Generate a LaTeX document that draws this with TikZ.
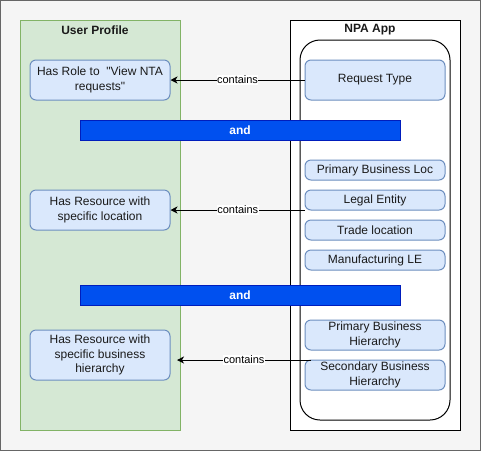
\documentclass[tikz,border=0pt]{standalone}
\usepackage{fontspec}
\setmainfont[Ligatures=NoCommon]{Liberation Sans}
\usetikzlibrary{arrows.meta}
\definecolor{bgfill}{HTML}{F5F5F5}
\definecolor{bgdraw}{HTML}{666666}
\definecolor{grfill}{HTML}{D5E8D4}
\definecolor{grdraw}{HTML}{82B366}
\definecolor{blfill}{HTML}{DAE8FC}
\definecolor{bldraw}{HTML}{6C8EBF}
\definecolor{andfill}{HTML}{0050EF}
\definecolor{anddraw}{HTML}{001DBC}
\definecolor{txt}{HTML}{1A1A1A}
\tikzset{
  item/.style={draw=bldraw, fill=blfill, rounded corners=6pt, line width=1pt, inner sep=0pt,
    minimum width=140pt, align=center, font=\fontsize{12}{14.5}\selectfont, text=txt},
  andbar/.style={draw=anddraw, fill=andfill, line width=1pt, inner sep=0pt,
    minimum width=320pt, minimum height=20pt, text=white, font=\fontsize{12}{14}\selectfont\bfseries},
  lbl/.style={fill=white, inner sep=0.5pt, font=\fontsize{11}{13}\selectfont, text=black},
  conn/.style={line width=1pt, -{Stealth[length=7pt,width=7pt,inset=2pt]}},
  title/.style={font=\fontsize{12}{14}\selectfont\bfseries, text=txt, inner sep=0pt}
}
\begin{document}
\begin{tikzpicture}[x=1pt,y=-1pt]
\useasboundingbox (0,0) rectangle (481,451);
\draw[bgdraw, fill=bgfill, line width=1pt] (0.5,0.5) rectangle (480.5,450.5);
% containers
\draw[grdraw, fill=grfill, line width=1pt] (20,20) rectangle (180,430);
\node[title] (upt) at (95,30) {User Profile};
\draw[black, fill=white, line width=1pt] (290,20) rectangle (460,430);
\node[title] (npat) at (370,30) {NPA App};
\draw[black, fill=white, line width=1pt, rounded corners=20pt] (300,40) rectangle (450,420);
% left items
\node[item, minimum height=40pt] (role) at (100,80) {Has Role to \ \textquotedbl View NTA\\requests\textquotedbl};
\node[item, minimum height=40pt] (loc) at (100,210) {Has Resource with\\specific location};
\node[item, minimum height=50pt] (hier) at (100,355) {Has Resource with\\specific business\\hierarchy};
% right items
\node[item, minimum height=40pt] (req) at (375,80) {Request Type};
\node[item, minimum height=20pt] (pbl) at (375,170) {Primary Business Loc};
\node[item, minimum height=20pt] (le) at (375,200) {Legal Entity};
\node[item, minimum height=20pt] (tl) at (375,230) {Trade location};
\node[item, minimum height=20pt] (mle) at (375,260) {Manufacturing LE};
\node[item, minimum height=30pt] (pbh) at (375,335) {Primary Business\\Hierarchy};
\node[item, minimum height=30pt] (sbh) at (375,375) {Secondary Business\\Hierarchy};
% and bars
\node[andbar] (and1) at (240,130) {and};
\node[andbar] (and2) at (240,295) {and};
% connectors
\coordinate (c2) at (305,210);
\coordinate (c3) at (311,360);
\coordinate (t3) at (177,360);
\draw[conn] (req.west) -- node[lbl, pos=0.5] {contains} (role.east);
\draw[conn] (c2) -- node[lbl, pos=0.5] {contains} (loc.east);
\draw[conn] (c3) -- node[lbl, pos=0.5] {contains} (t3);
\end{tikzpicture}
\end{document}
